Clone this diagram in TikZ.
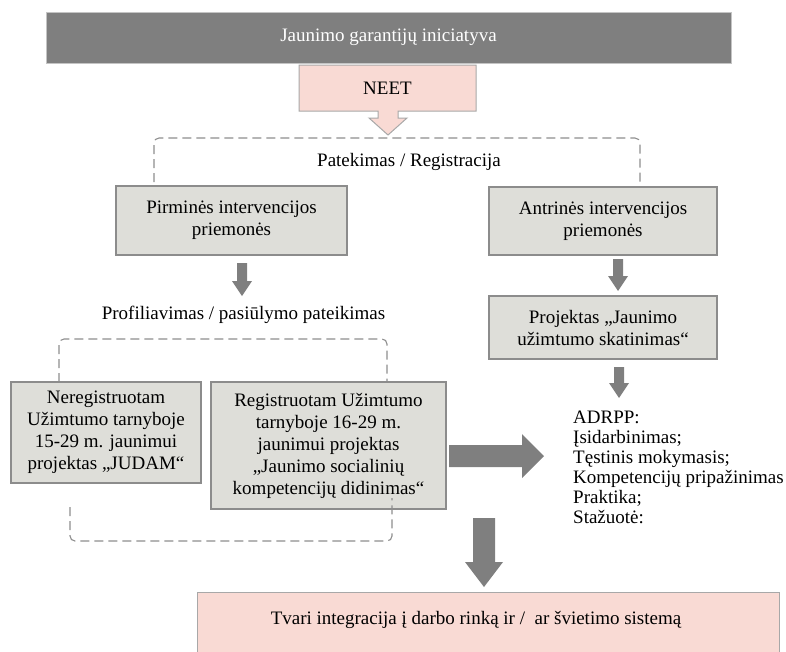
\documentclass[tikz,border=0pt]{standalone}
\usepackage{fontspec}
\setmainfont{Liberation Serif}
\usetikzlibrary{calc}

\definecolor{titlefill}{HTML}{7F7F7F}
\definecolor{titleedge}{HTML}{C4C4C4}
\definecolor{pinkfill}{HTML}{F9DAD4}
\definecolor{pinkedge}{HTML}{A8A8A8}
\definecolor{boxfill}{HTML}{DEDED9}
\definecolor{boxedge}{HTML}{8C8C8C}
\definecolor{arrowgray}{HTML}{7F7F7F}
\definecolor{dashgray}{HTML}{8E8E8E}

\begin{document}
\begin{tikzpicture}[x=1pt,y=-1pt,
  txt/.style={font=\fontsize{19}{22}\selectfont, align=center, inner sep=0pt},
  titlebox/.style={txt, text=white, draw=titleedge, fill=titlefill, line width=1pt},
  graybox/.style={txt, draw=boxedge, fill=boxfill, line width=1.2pt},
  pinkbox/.style={draw=pinkedge, fill=pinkfill, line width=1pt},
  bracket/.style={draw=dashgray, line width=1.1pt, dash pattern=on 9pt off 5pt, rounded corners=5pt},
  blockarrow/.style={fill=arrowgray}
]
\useasboundingbox (0,0) rectangle (786,651);

% header bar
\node[titlebox, minimum width=685pt, minimum height=51pt] (title) at (388.5,37.5) {Jaunimo garantijų iniciatyva};

% NEET callout with its downward pointer
\path[pinkbox] (299,65) -- (476,65) -- (476,111) -- (398,111) -- (398,118) -- (407,118)
  -- (388,135) -- (369,118) -- (378,118) -- (378,111) -- (299,111) -- cycle;
\node[txt] (neet) at (387.5,88) {NEET};

% entry bracket
\coordinate (b1l) at (154,182);
\coordinate (b1r) at (640,182);
\draw[bracket] (b1l) -- (154,138) -- (640,138) -- (b1r);
\node[txt] (entry) at (409,162) {Patekimas / Registracija};

% intervention measures
\node[graybox, minimum width=231pt, minimum height=69pt] (prim) at (231.5,220.5) {Pirminės intervencijos\\priemonės};
\node[graybox, minimum width=228pt, minimum height=68pt] (sec) at (603,221) {Antrinės intervencijos\\priemonės};

% small block arrows
\path[blockarrow] (237,263) -- (247,263) -- (247,281) -- (252,281) -- (242,296) -- (232,281) -- (237,281) -- cycle;
\path[blockarrow] (613,259) -- (623,259) -- (623,276) -- (628,276) -- (618,291) -- (608,276) -- (613,276) -- cycle;
\path[blockarrow] (614,367) -- (624,367) -- (624,383) -- (629,383) -- (619,398) -- (609,383) -- (614,383) -- cycle;

\node[txt] (profile) at (243.5,315) {Profiliavimas / pasiūlymo pateikimas};

\node[graybox, minimum width=228pt, minimum height=63pt] (proj) at (603,327.5) {Projektas „Jaunimo\\užimtumo skatinimas“};

% profiling bracket (top)
\coordinate (b2l) at (59,382);
\coordinate (b2r) at (387,382);
\draw[bracket] (b2l) -- (59,339) -- (387,339) -- (b2r);

% projects
\node[graybox, minimum width=190pt, minimum height=101pt] (judam) at (106,432.5)
  {Neregistruotam\\Užimtumo tarnyboje\\15-29 m. jaunimui\\projektas „JUDAM“};
\node[graybox, minimum width=235pt, minimum height=127pt] (social) at (328.5,445.5)
  {Registruotam Užimtumo\\tarnyboje 16-29 m.\\jaunimui projektas\\„Jaunimo socialinių\\kompetencijų didinimas“};

% profiling bracket (bottom)
\coordinate (b3l) at (70,507);
\coordinate (b3r) at (392,498);
\draw[bracket] (b3l) -- (70,541) -- (392,541) -- (b3r);

% arrow towards the results list
\path[blockarrow] (449,445) -- (522,445) -- (522,434) -- (544,456) -- (522,478) -- (522,467) -- (449,467) -- cycle;

% results list
\node[txt, align=left, anchor=north west, font=\fontsize{19}{20}\selectfont] (adrpp) at (573,410.5)
  {ADRPP:\\Įsidarbinimas;\\Tęstinis mokymasis;\\Kompetencijų pripažinimas\\Praktika;\\Stažuotė:};

% arrow towards the outcome
\path[blockarrow] (473,518) -- (495,518) -- (495,562) -- (503,562) -- (484,587) -- (465,562) -- (473,562) -- cycle;

% outcome
\node[pinkbox, minimum width=582pt, minimum height=70pt, anchor=north, inner sep=0pt] (final) at (488,592) {};
\node[txt] (finaltxt) at (476,620) {Tvari integracija į darbo rinką ir /\ \ ar švietimo sistemą};
\end{tikzpicture}
\end{document}
